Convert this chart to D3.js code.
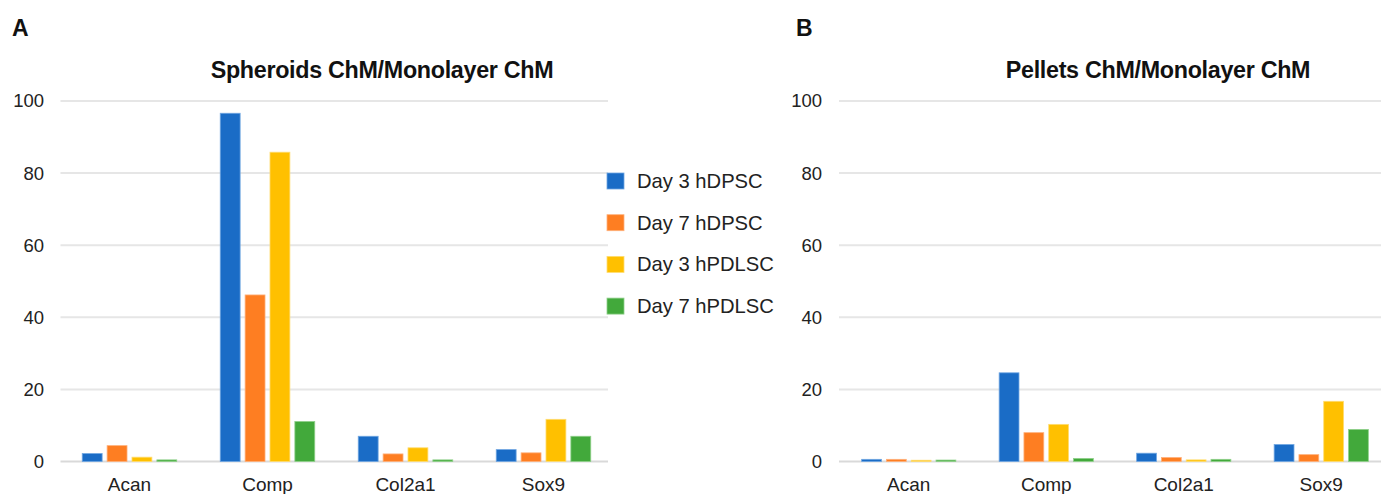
<!DOCTYPE html>
<html>
<head>
<meta charset="utf-8">
<script src="https://cdn.jsdelivr.net/npm/d3@7"></script>
<style>
  body { margin: 0; background: #fff; }
  svg { font-family: "Liberation Sans", Arial, sans-serif; }
</style>
</head>
<body>
<svg id="chart" width="1381" height="494"></svg>
<script>
const genes = ["Acan", "Comp", "Col2a1", "Sox9"];
const series = ["Day 3 hDPSC", "Day 7 hDPSC", "Day 3 hPDLSC", "Day 7 hPDLSC"];
const yTicks = [0, 20, 40, 60, 80, 100];

// Spheroids ChM / Monolayer ChM
const spheroidsD3hDPSC = [2.2, 96.6, 7.0, 3.3];
const spheroidsD7hDPSC = [4.4, 46.2, 2.1, 2.4];
const spheroidsD3hPDLSC = [1.2, 85.8, 3.8, 11.7];
const spheroidsD7hPDLSC = [0.45, 11.1, 0.45, 7.0];

// Pellets ChM / Monolayer ChM
const pelletsD3hDPSC = [0.6, 24.6, 2.3, 4.7];
const pelletsD7hDPSC = [0.6, 8.0, 1.1, 1.9];
const pelletsD3hPDLSC = [0.35, 10.3, 0.45, 16.7];
const pelletsD7hPDLSC = [0.4, 0.85, 0.6, 8.9];

const colors = ["#1a6cc6", "#fe7e22", "#ffc000", "#42a93b"];
const strokes = ["#6fa6e2", "#ffb07a", "#ffdc70", "#8fd08a"];

const svg = d3.select("#chart");

const color = d3.scaleOrdinal().domain(series).range(colors);
const edge = d3.scaleOrdinal().domain(series).range(strokes);

function panel(opts) {
  const g = svg.append("g");
  const y = d3.scaleLinear().domain([0, 100]).range([461.5, 101]);
  const x0 = d3.scaleBand().domain(genes).range(opts.xRange)
    .paddingInner(0.315).paddingOuter(0.1575);
  const x1 = d3.scaleBand().domain(series).range([0, x0.bandwidth()])
    .paddingInner(0.2);

  // gridlines
  g.append("g")
    .selectAll("line")
    .data(yTicks)
    .join("line")
    .attr("x1", opts.grid[0])
    .attr("x2", opts.grid[1])
    .attr("y1", (d) => y(d))
    .attr("y2", (d) => y(d))
    .attr("stroke", (d) => (d === 0 ? "#d9d9d9" : "#e6e6e6"))
    .attr("stroke-width", 2);

  // y axis
  const yAxis = g.append("g")
    .attr("transform", `translate(${opts.labelX},0)`)
    .call(d3.axisLeft(y).tickValues(yTicks).tickSize(0).tickPadding(0));
  yAxis.select(".domain").remove();
  yAxis.selectAll("text")
    .attr("font-size", 18.5)
    .attr("fill", "#222")
    .attr("font-family", "Liberation Sans, Arial, sans-serif");

  // bars
  const rows = series.map((s, i) => ({ s, vals: opts.data[i] }));
  g.append("g")
    .selectAll("g")
    .data(rows)
    .join("g")
    .selectAll("rect")
    .data((r) => r.vals.map((v, j) => ({ s: r.s, gene: genes[j], v })))
    .join("rect")
    .attr("x", (d) => x0(d.gene) + x1(d.s))
    .attr("width", x1.bandwidth())
    .attr("y", (d) => y(d.v))
    .attr("height", (d) => y(0) - y(d.v))
    .attr("fill", (d) => color(d.s))
    .attr("stroke", (d) => edge(d.s))
    .attr("stroke-width", 0.8);

  // x axis labels
  const xAxis = g.append("g")
    .attr("transform", "translate(0,477)")
    .call(d3.axisBottom(x0).tickSize(0).tickPadding(0));
  xAxis.select(".domain").remove();
  xAxis.selectAll("text")
    .attr("font-size", 19)
    .attr("fill", "#222")
    .attr("font-family", "Liberation Sans, Arial, sans-serif");

  // title and panel letter
  g.append("text")
    .attr("x", opts.titleX)
    .attr("y", 78)
    .attr("text-anchor", "middle")
    .attr("font-size", 23.3)
    .attr("font-weight", "bold")
    .attr("letter-spacing", -0.3)
    .attr("fill", "#111")
    .text(opts.title);

  g.append("text")
    .attr("x", opts.letterX)
    .attr("y", 36)
    .attr("font-size", 23)
    .attr("font-weight", "bold")
    .attr("fill", "#111")
    .text(opts.letter);
}

panel({
  data: [spheroidsD3hDPSC, spheroidsD7hDPSC, spheroidsD3hPDLSC, spheroidsD7hPDLSC],
  xRange: [60.5, 612.5],
  grid: [60.5, 608],
  labelX: 44,
  titleX: 382,
  title: "Spheroids ChM/Monolayer ChM",
  letter: "A",
  letterX: 12,
});

panel({
  data: [pelletsD3hDPSC, pelletsD7hDPSC, pelletsD3hPDLSC, pelletsD7hPDLSC],
  xRange: [840, 1390],
  grid: [839, 1381],
  labelX: 822,
  titleX: 1158,
  title: "Pellets ChM/Monolayer ChM",
  letter: "B",
  letterX: 796,
});

// legend
const legend = svg.append("g").attr("transform", "translate(607,173)");
const item = legend.selectAll("g")
  .data(series)
  .join("g")
  .attr("transform", (d, i) => `translate(0,${i * 41.7})`);
item.append("rect")
  .attr("width", 17)
  .attr("height", 16)
  .attr("fill", (d) => color(d))
  .attr("stroke", (d) => edge(d))
  .attr("stroke-width", 0.8);
item.append("text")
  .attr("x", 30)
  .attr("y", 8)
  .attr("dy", "0.35em")
  .attr("font-size", 20.2)
  .attr("fill", "#222")
  .text((d) => d);
</script>
</body>
</html>
